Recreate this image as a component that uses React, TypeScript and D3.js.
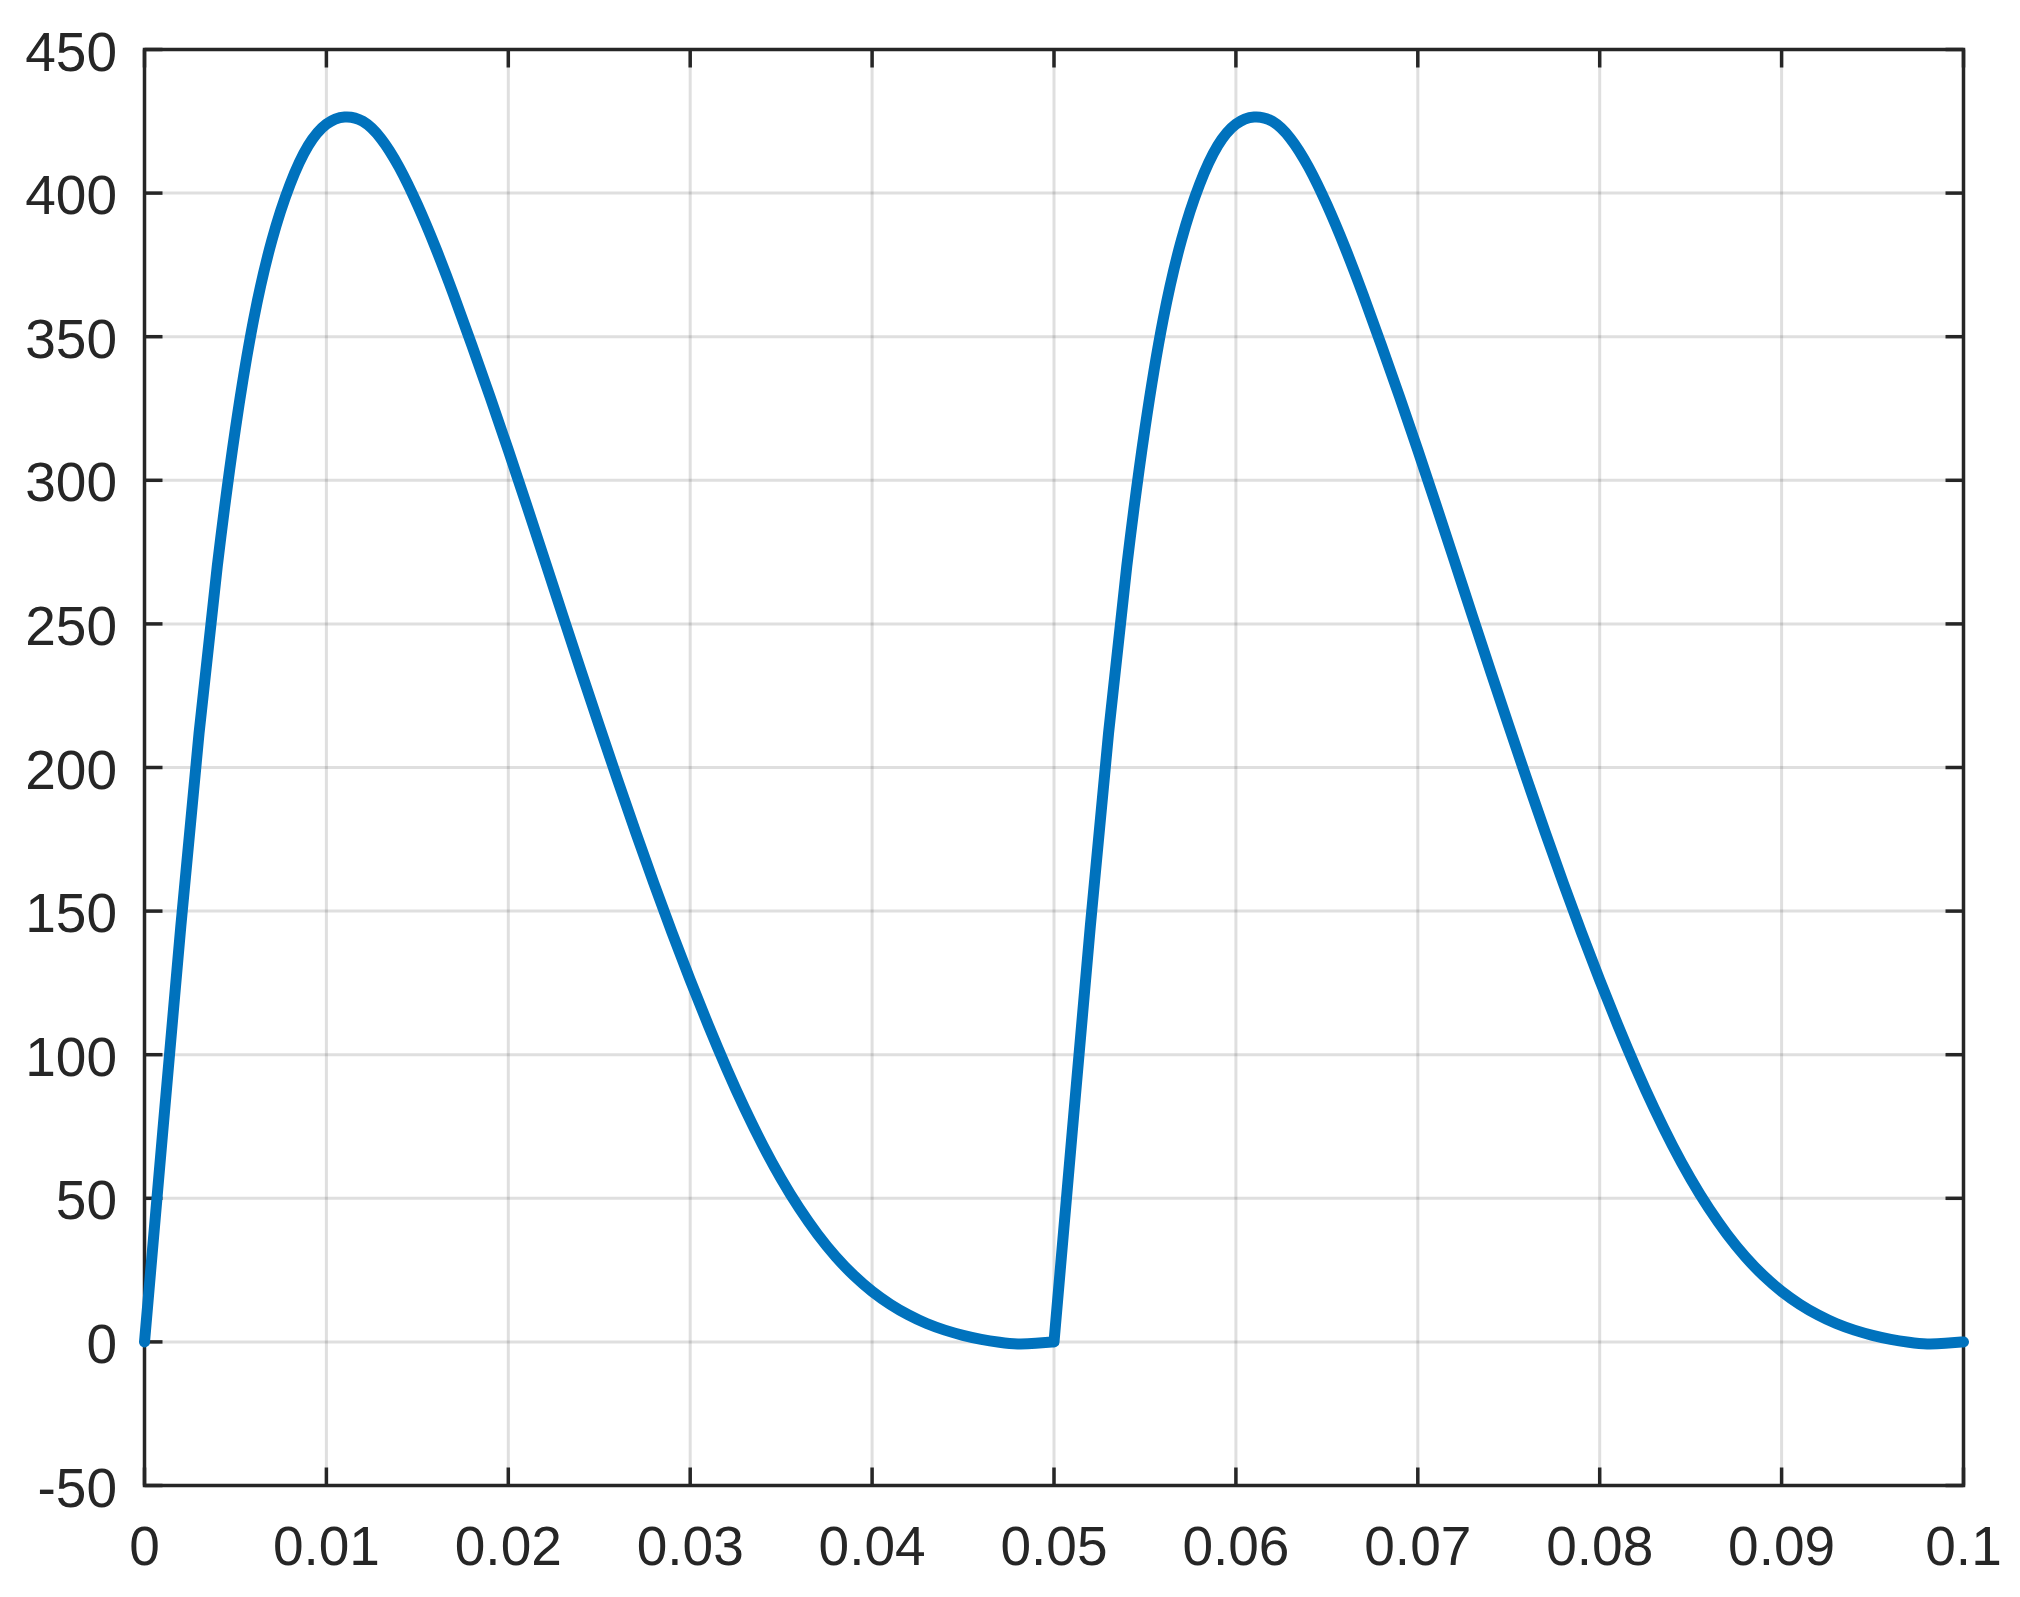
import React from "react";
import * as d3 from "d3";

const width = 2020;
const height = 1597;

// sample times (s), one every millisecond
const times = [
  0, 0.001, 0.002, 0.003, 0.004, 0.005, 0.006, 0.007, 0.008, 0.009,
  0.01, 0.011, 0.012, 0.013, 0.014, 0.015, 0.016, 0.017, 0.018, 0.019,
  0.02, 0.021, 0.022, 0.023, 0.024, 0.025, 0.026, 0.027, 0.028, 0.029,
  0.03, 0.031, 0.032, 0.033, 0.034, 0.035, 0.036, 0.037, 0.038, 0.039,
  0.04, 0.041, 0.042, 0.043, 0.044, 0.045, 0.046, 0.047, 0.048, 0.049,
  0.05, 0.051, 0.052, 0.053, 0.054, 0.055, 0.056, 0.057, 0.058, 0.059,
  0.06, 0.061, 0.062, 0.063, 0.064, 0.065, 0.066, 0.067, 0.068, 0.069,
  0.07, 0.071, 0.072, 0.073, 0.074, 0.075, 0.076, 0.077, 0.078, 0.079,
  0.08, 0.081, 0.082, 0.083, 0.084, 0.085, 0.086, 0.087, 0.088, 0.089,
  0.09, 0.091, 0.092, 0.093, 0.094, 0.095, 0.096, 0.097, 0.098, 0.099,
  0.1,
];
// values
const values = [
  0, 73, 145, 212, 270, 318, 356, 383.5, 403, 416.5,
  424, 426.5, 425, 419, 409, 396, 381, 364.5, 347, 329,
  310.5, 291.5, 272.2, 252.8, 233.5, 214.5, 195.8, 177.5, 159.7, 142.5,
  126, 110.2, 95.2, 81.2, 68.4, 56.8, 46.5, 37.5, 29.7, 23.1,
  17.6, 13.1, 9.4, 6.4, 4.1, 2.3, 0.9, -0.1, -0.7, -0.5,
  0, 73, 145, 212, 270, 318, 356, 383.5, 403, 416.5,
  424, 426.5, 425, 419, 409, 396, 381, 364.5, 347, 329,
  310.5, 291.5, 272.2, 252.8, 233.5, 214.5, 195.8, 177.5, 159.7, 142.5,
  126, 110.2, 95.2, 81.2, 68.4, 56.8, 46.5, 37.5, 29.7, 23.1,
  17.6, 13.1, 9.4, 6.4, 4.1, 2.3, 0.9, -0.1, -0.7, -0.5,
  0,
];
// times where the waveform restarts with a sharp corner
const corners = [0.05];

const xTicks = [0, 0.01, 0.02, 0.03, 0.04, 0.05, 0.06, 0.07, 0.08, 0.09, 0.1];
const xTickLabels = ["0", "0.01", "0.02", "0.03", "0.04", "0.05", "0.06", "0.07", "0.08", "0.09", "0.1"];
const yTicks = [-50, 0, 50, 100, 150, 200, 250, 300, 350, 400, 450];
const yTickLabels = ["-50", "0", "50", "100", "150", "200", "250", "300", "350", "400", "450"];

const axisColor = "#262626";
const font = "'Liberation Sans', Arial, Helvetica, sans-serif";

export default function App() {
  const x = d3.scaleLinear().domain([0, 0.1]).range([144.5, 1963.5]);
  const y = d3.scaleLinear().domain([-50, 450]).range([1485.5, 49.5]);
  const [x0, x1] = x.range();
  const [y0, y1] = y.range();
  const tickLen = 18;

  const data = times.map((t, i) => [t, values[i]] as [number, number]);

  // split at the corners so the smoothing doesn't round them off
  const segments: [number, number][][] = [];
  let current: [number, number][] = [];
  data.forEach(d => {
    current.push(d);
    if (corners.some(c => Math.abs(c - d[0]) < 1e-9)) {
      segments.push(current);
      current = [d];
    }
  });
  segments.push(current);

  const line = d3
    .line<[number, number]>()
    .x(d => x(d[0]))
    .y(d => y(d[1]))
    .curve(d3.curveNatural);

  const pathD = segments.map(s => line(s) || "").join("");

  return (
    <svg width={width} height={height} style={{ display: "block" }}>
      <style>{`body{margin:0}`}</style>
      <rect width={width} height={height} fill="#fff" />

      {/* grid */}
      <g stroke={axisColor} strokeOpacity={0.15} strokeWidth={3}>
        {xTicks.map(t => (
          <line key={"gx" + t} x1={x(t)} x2={x(t)} y1={y1} y2={y0} />
        ))}
        {yTicks.map(t => (
          <line key={"gy" + t} x1={x0} x2={x1} y1={y(t)} y2={y(t)} />
        ))}
      </g>

      {/* ticks, both sides */}
      <g stroke={axisColor} strokeWidth={3.5}>
        {xTicks.map(t => (
          <g key={"tx" + t}>
            <line x1={x(t)} x2={x(t)} y1={y0} y2={y0 - tickLen} />
            <line x1={x(t)} x2={x(t)} y1={y1} y2={y1 + tickLen} />
          </g>
        ))}
        {yTicks.map(t => (
          <g key={"ty" + t}>
            <line x1={x0} x2={x0 + tickLen} y1={y(t)} y2={y(t)} />
            <line x1={x1} x2={x1 - tickLen} y1={y(t)} y2={y(t)} />
          </g>
        ))}
      </g>

      <rect
        x={x0}
        y={y1}
        width={x1 - x0}
        height={y0 - y1}
        fill="none"
        stroke={axisColor}
        strokeWidth={3.5}
      />

      <path
        d={pathD}
        fill="none"
        stroke="#0072BD"
        strokeWidth={11}
        strokeLinejoin="round"
        strokeLinecap="round"
      />

      {/* tick labels */}
      <g fill={axisColor} fontFamily={font} fontSize={55}>
        {xTicks.map((t, i) => (
          <text key={"lx" + t} x={x(t)} y={1565} textAnchor="middle">
            {xTickLabels[i]}
          </text>
        ))}
        {yTicks.map((t, i) => (
          <text key={"ly" + t} x={117} y={y(t) + 21} textAnchor="end">
            {yTickLabels[i]}
          </text>
        ))}
      </g>
    </svg>
  );
}
